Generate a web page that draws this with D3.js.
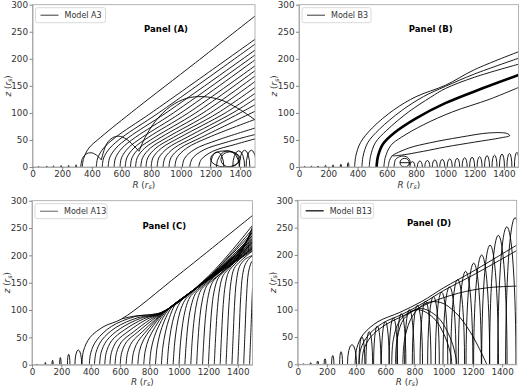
<!DOCTYPE html>
<html>
<head>
<meta charset="utf-8">
<script src="https://cdn.jsdelivr.net/npm/d3@7"></script>
<style>
body { margin: 0; background: #fff; }
svg { display: block; font-family: "DejaVu Sans", sans-serif; }
</style>
</head>
<body>
<script>
// axis ticks
var xTicks = [0, 200, 400, 600, 800, 1000, 1200, 1400];
var zTicks = [0, 50, 100, 150, 200, 250, 300];

// ---- Panel A (Model A3) ----
// streamlines, [R, z] points
var aFan = [
    [[335,0],[345,16],[380,35],[460,55],[700,108],[1100,193],[1500,279]],
    [[430,0],[440,17],[480,35],[560,55],[800,100],[1500,236]],
    [[470,0],[480,17],[522,35],[605,55],[850,100],[1500,227]],
    [[510,0],[520,17],[563,35],[650,55],[900,100],[1500,216]],
    [[550,0],[560,17],[604,35],[695,55],[950,100],[1500,207]],
    [[590,0],[600,17],[645,35],[740,55],[1000,100],[1500,198]],
    [[625,0],[636,17],[683,35],[782,55],[1050,100],[1500,187]],
    [[660,0],[671,17],[720,35],[825,55],[1100,100],[1500,178]],
    [[695,0],[706,17],[757,35],[867,55],[1150,100],[1500,168]],
    [[730,0],[742,17],[795,35],[910,55],[1200,100],[1500,158]],
    [[765,0],[777,17],[832,35],[952,55],[1250,100],[1500,147]],
    [[800,0],[812,17],[870,35],[995,55],[1300,100],[1500,136]],
    [[840,0],[852,17],[912,35],[1042,55],[1350,100],[1500,126]],
    [[880,0],[893,17],[955,35],[1090,55],[1400,100],[1500,115]],
    [[920,0],[933,17],[997,35],[1140,55],[1500,103]],
    [[960,0],[974,17],[1040,35],[1190,55],[1500,88]],
    [[1010,0],[1025,16],[1095,33],[1250,50],[1500,72]],
    [[1060,0],[1076,15],[1150,31],[1310,46],[1500,60]],
    [[1120,0],[1138,14],[1215,29],[1370,42],[1500,52]]
];
// the bouncing trajectory, split at its cusps
var aHops = [
    [[325,0],[337,16],[368,25],[402,26],[440,20],[464,13]],
    [[464,13],[500,43],[540,54],[580,57],[630,52],[680,40],[718,29]],
    [[718,29],[760,55],[830,85],[930,112],[1040,127],[1150,130],[1270,124],[1380,109],[1460,95],[1500,87]]
];
// small arches: [R start, R end, height]
var aTicks = [[37,43,1],[94,100,1.5],[138,144,2],[190,196,2.5],[240,246,3],[291,297,4]];
var aBumps = [[1200,1290,28],[1240,1395,30],[1350,1430,30],[1395,1465,31],[1440,1510,31]];
// loops: [R centre, z centre, R radius, z radius]
var aLoops = [[1300,15,100,15],[1330,14,60,14]];

// ---- Panel B (Model B3) ----
var bLines = [
    [[380,0],[388,20],[420,45],[500,72],[650,106],[800,130],[1000,151],[1200,180],[1500,213]],
    [[430,0],[438,20],[470,45],[550,70],[700,104],[850,130],[1000,149],[1200,172],[1500,201]],
    [[480,0],[489,20],[522,45],[600,68],[750,102],[900,129],[1000,145],[1200,166],[1500,190]],
    [[580,0],[590,18],[628,40],[700,55],[850,78],[1050,102],[1300,125],[1500,147]],
    [[610,0],[618,12],[640,22]],
    [[650,0],[660,14],[700,20],[740,18],[760,10],[750,3]],
    [[690,8],[760,8]]
];
var bThick = [[530,0],[540,20],[575,43],[650,63],[800,90],[1000,118],[1250,145],[1500,170]];
var bLoop = [[640,21],[750,35],[900,45],[1100,55],[1300,63],[1420,62],[1440,58],[1380,54],[1200,46],[1000,37],[850,29],[700,22]];
var bRing = [[722,8,32,8]];
var bTicks = [[36,42,1],[82,88,1.5],[127,133,2],[177,185,3],[229,237,4],[282,290,5],[331,341,8]];
var bArches = [
    [758,792,10],[809,843,11],[860,894,12],[911,945,13],[962,996,14],
    [1013,1047,15],[1064,1098,16],[1115,1149,17],[1166,1200,18],[1217,1251,19],
    [1268,1302,21],[1319,1353,22],[1370,1404,24],[1421,1455,25],[1472,1506,27]
];

// ---- Panel C (Model A13) ----
var cLines = [
    [[340,0],[350,25],[395,50],[490,70],[612,84],[1000,165],[1500,273]],
    [[612,84],[700,89],[790,91],[870,94]],
    [[390,0],[400,22],[440,45],[540,70],[700,88],[880,96],[1200,162],[1500,255]],
    [[425,0],[435,22],[475,45],[570,68],[720,86],[880,95],[1200,160],[1500,248]],
    [[460,0],[470,22],[508,44],[600,66],[740,85],[885,95],[1200,160],[1500,242]],
    [[495,0],[505,22],[542,44],[630,64],[760,84],[890,96],[1200,159],[1500,236]],
    [[530,0],[540,22],[576,43],[660,62],[780,83],[895,96],[1200,158],[1500,230]],
    [[565,0],[575,22],[610,42],[690,60],[800,82],[900,97],[1200,157],[1500,226]],
    [[600,0],[610,22],[644,42],[720,60],[820,82],[905,98],[1200,157],[1500,222]],
    [[640,0],[650,22],[682,42],[750,60],[840,83],[910,99],[1200,156],[1500,218]],
    [[680,0],[690,22],[720,42],[780,62],[860,86],[920,101],[1200,156],[1500,214]],
    [[720,0],[730,24],[758,45],[810,66],[880,90],[930,103],[1200,155],[1500,211]],
    [[760,0],[770,25],[795,48],[840,70],[900,94],[945,106],[1200,155],[1500,209]],
    [[800,0],[810,27],[833,52],[870,75],[920,98],[960,109],[1200,156],[1500,212]],
    [[840,0],[850,30],[870,56],[900,80],[945,103],[980,112],[1200,157],[1500,216]],
    [[880,0],[890,32],[908,60],[935,86],[970,108],[1000,116],[1200,158],[1500,220]],
    [[920,0],[930,35],[946,65],[970,92],[1005,113],[1030,121],[1200,158],[1500,224]],
    [[960,0],[970,38],[985,70],[1008,98],[1040,118],[1070,127],[1200,159],[1500,228]],
    [[1000,0],[1010,40],[1025,75],[1045,103],[1075,124],[1110,134],[1250,167],[1500,232]],
    [[1040,0],[1050,42],[1064,80],[1083,108],[1112,130],[1150,141],[1300,177],[1500,236]],
    [[1080,0],[1090,45],[1104,85],[1122,115],[1150,137],[1190,148],[1300,176],[1500,240]],
    [[1120,0],[1130,48],[1143,90],[1160,120],[1188,144],[1230,155],[1350,184],[1500,244]],
    [[1160,0],[1170,50],[1183,95],[1200,127],[1226,150],[1265,162],[1380,190],[1500,248]],
    [[1200,0],[1210,52],[1222,100],[1238,133],[1264,157],[1300,169],[1400,195],[1500,252]],
    [[1240,0],[1250,55],[1262,105],[1277,140],[1300,163],[1340,176],[1420,200],[1500,225]],
    [[1280,0],[1290,58],[1301,110],[1315,146],[1338,170],[1380,184],[1500,215]],
    [[1320,0],[1330,60],[1341,115],[1354,152],[1375,176],[1420,190],[1500,208]],
    [[1360,0],[1370,62],[1380,120],[1393,158],[1412,180],[1450,193],[1500,200]],
    [[1400,0],[1410,64],[1420,125],[1432,163],[1450,183],[1480,195],[1500,199]],
    [[1440,0],[1450,66],[1460,128],[1472,168],[1490,186],[1500,190]],
    [[1480,0],[1490,68],[1497,120],[1500,140]]
];
var cArches = [[31,37,1],[88,94,4],[136,144,8],[188,198,13],[241,258,19],[292,338,27]];

// ---- Panel D (Model B13) ----
var dLines = [
    [[393,0],[405,30],[450,55],[550,78],[700,95],[850,115],[1000,140],[1200,170],[1500,218]],
    [[420,0],[432,28],[480,52],[580,75],[720,92],[860,112],[1000,135],[1200,163],[1500,208]],
    [[440,0],[452,26],[500,50],[600,72],[750,92],[900,112],[1100,130],[1300,140],[1500,143]],
    [[644,0],[655,45],[700,80],[815,100],[930,85],[1010,50],[1050,15],[1055,0]],
    [[670,0],[682,48],[730,84],[840,102],[960,86],[1050,45],[1085,10],[1089,0]],
    [[720,0],[735,50],[790,90],[880,112],[980,113],[1080,95],[1180,60],[1260,20],[1295,0]]
];
var dArches = [
    [36,42,1],[85,93,3],[132,142,6],[181,193,10],[232,248,16],[287,307,23],[341,403,36],
    [420,460,50],[467,513,60],[520,570,70],[573,627,78],[626,684,85],[679,741,93],
    [732,798,100],[785,855,108],[838,913,116],[890,970,124],[943,1028,132],[995,1085,142],
    [1048,1143,155],[1100,1200,170],[1153,1258,185],[1205,1315,200],[1260,1375,218],
    [1314,1434,236],[1370,1495,252],[1424,1554,268]
];

var svg = d3.select('body').append('svg')
    .attr('width', 520)
    .attr('height', 388);

function drawPanel(id, box, spec) {
    var x = d3.scaleLinear().domain([0, 1500]).range([box.left, box.right]);
    var y = d3.scaleLinear().domain([0, 300]).range([box.bottom, box.top]);

    svg.append('clipPath').attr('id', 'clip' + id)
        .append('rect')
        .attr('x', box.left).attr('y', box.top)
        .attr('width', box.right - box.left).attr('height', box.bottom - box.top);

    var plot = svg.append('g').attr('clip-path', 'url(#clip' + id + ')');

    var line = d3.line()
        .x(function (d) { return x(d[0]); })
        .y(function (d) { return y(d[1]); })
        .curve(d3.curveCatmullRom.alpha(0.5));
    var closed = d3.line()
        .x(function (d) { return x(d[0]); })
        .y(function (d) { return y(d[1]); })
        .curve(d3.curveCatmullRomClosed.alpha(0.5));

    function arch(a) {
        var rx = (x(a[1]) - x(a[0])) / 2, ry = y(0) - y(a[2]);
        return 'M' + x(a[0]) + ',' + y(0) + 'A' + rx + ',' + ry + ' 0 0 1 ' + x(a[1]) + ',' + y(0);
    }

    plot.selectAll('path.stream').data(spec.lines || []).enter().append('path')
        .attr('class', 'stream')
        .attr('d', line)
        .attr('fill', 'none').attr('stroke', '#000').attr('stroke-width', 0.9);

    plot.selectAll('path.arch').data(spec.arches || []).enter().append('path')
        .attr('class', 'arch')
        .attr('d', arch)
        .attr('fill', 'none').attr('stroke', '#000').attr('stroke-width', 0.9);

    plot.selectAll('path.loop').data(spec.loops || []).enter().append('path')
        .attr('class', 'loop')
        .attr('d', closed)
        .attr('fill', 'none').attr('stroke', '#000').attr('stroke-width', 0.9);

    plot.selectAll('ellipse').data(spec.ellipses || []).enter().append('ellipse')
        .attr('cx', function (d) { return x(d[0]); })
        .attr('cy', function (d) { return y(d[1]); })
        .attr('rx', function (d) { return x(d[2]) - x(0); })
        .attr('ry', function (d) { return y(0) - y(d[3]); })
        .attr('fill', 'none').attr('stroke', '#000').attr('stroke-width', 0.9);

    if (spec.thick) {
        plot.append('path')
            .attr('d', line(spec.thick))
            .attr('fill', 'none').attr('stroke', '#000').attr('stroke-width', 2.6);
    }

    // frame
    svg.append('rect')
        .attr('x', box.left).attr('y', box.top)
        .attr('width', box.right - box.left).attr('height', box.bottom - box.top)
        .attr('fill', 'none').attr('stroke', '#a0a0a0').attr('stroke-width', 0.8);

    var gx = svg.append('g')
        .attr('transform', 'translate(0,' + box.bottom + ')')
        .call(d3.axisBottom(x).tickValues(xTicks).tickFormat(d3.format('d'))
            .tickSize(3).tickSizeOuter(0).tickPadding(1));
    var gy = svg.append('g')
        .attr('transform', 'translate(' + box.left + ',0)')
        .call(d3.axisLeft(y).tickValues(zTicks).tickFormat(d3.format('d'))
            .tickSize(3).tickSizeOuter(0).tickPadding(1.5));
    [gx, gy].forEach(function (g) {
        g.select('.domain').attr('stroke', '#a0a0a0').attr('stroke-width', 0.8);
        g.selectAll('.tick line').attr('stroke', '#555').attr('stroke-width', 0.7);
        g.selectAll('.tick text').attr('fill', '#333').style('font-size', '8.8px')
            .style('font-family', '"DejaVu Sans", sans-serif');
    });

    // axis labels
    var xl = svg.append('text')
        .attr('x', (box.left + box.right) / 2)
        .attr('y', box.bottom + spec.xLabelGap)
        .attr('text-anchor', 'middle')
        .attr('fill', '#333')
        .style('font-size', '8.8px');
    xl.append('tspan').style('font-style', 'italic').text('R');
    xl.append('tspan').text(' (');
    xl.append('tspan').style('font-style', 'italic').text('r');
    xl.append('tspan').attr('dy', 1).style('font-size', '6.3px').style('font-style', 'italic').text('s');
    xl.append('tspan').attr('dy', -1).text(')');

    var yl = svg.append('text')
        .attr('transform', 'translate(' + (box.left - 22) + ',' + ((box.top + box.bottom) / 2) + ') rotate(-90)')
        .attr('text-anchor', 'middle')
        .attr('fill', '#333')
        .style('font-size', '8.8px');
    yl.append('tspan').style('font-style', 'italic').text('z');
    yl.append('tspan').text(' (');
    yl.append('tspan').style('font-style', 'italic').text('r');
    yl.append('tspan').attr('dy', 1.5).style('font-size', '6.3px').style('font-style', 'italic').text('s');
    yl.append('tspan').attr('dy', -1.5).text(')');

    // legend
    var lg = svg.append('g')
        .attr('transform', 'translate(' + (box.left + 3) + ',' + (box.top + 3) + ')');
    lg.append('rect')
        .attr('width', spec.legendWidth).attr('height', 15)
        .attr('rx', 2)
        .attr('fill', '#fff').attr('stroke', '#cfcfcf').attr('stroke-width', 0.8);
    lg.append('line')
        .attr('x1', 5).attr('x2', 23).attr('y1', 7.5).attr('y2', 7.5)
        .attr('stroke', '#222').attr('stroke-width', spec.legendStroke);
    lg.append('text')
        .attr('x', 29).attr('y', 10.5)
        .attr('fill', '#333')
        .style('font-size', '8px')
        .text(spec.legend);

    svg.append('text')
        .attr('x', box.left + 0.6 * (box.right - box.left))
        .attr('y', spec.titleY)
        .attr('text-anchor', 'middle')
        .style('font-size', '8.5px')
        .style('font-weight', 'bold')
        .text(spec.title);
}

drawPanel('A', { left: 32.5, right: 255, top: 4.7, bottom: 167 }, {
    lines: aFan.concat(aHops),
    arches: aTicks.concat(aBumps),
    ellipses: aLoops,
    legend: 'Model A3', legendWidth: 70, legendStroke: 0.9,
    title: 'Panel (A)', titleY: 32, xLabelGap: 20.5
});

drawPanel('B', { left: 299, right: 518.5, top: 4.7, bottom: 167 }, {
    lines: bLines,
    thick: bThick,
    loops: [bLoop],
    ellipses: bRing,
    arches: bTicks.concat(bArches),
    legend: 'Model B3', legendWidth: 69, legendStroke: 0.9,
    title: 'Panel (B)', titleY: 32, xLabelGap: 20.5
});

drawPanel('C', { left: 32, right: 252.5, top: 200.7, bottom: 364.7 }, {
    lines: cLines,
    arches: cArches,
    legend: 'Model A13', legendWidth: 72, legendStroke: 0.7,
    title: 'Panel (C)', titleY: 229, xLabelGap: 20.3
});

drawPanel('D', { left: 297.7, right: 516.7, top: 200.3, bottom: 364.3 }, {
    lines: dLines,
    arches: dArches,
    legend: 'Model B13', legendWidth: 73, legendStroke: 1.4,
    title: 'Panel (D)', titleY: 226, xLabelGap: 20.7
});
</script>
</body>
</html>
